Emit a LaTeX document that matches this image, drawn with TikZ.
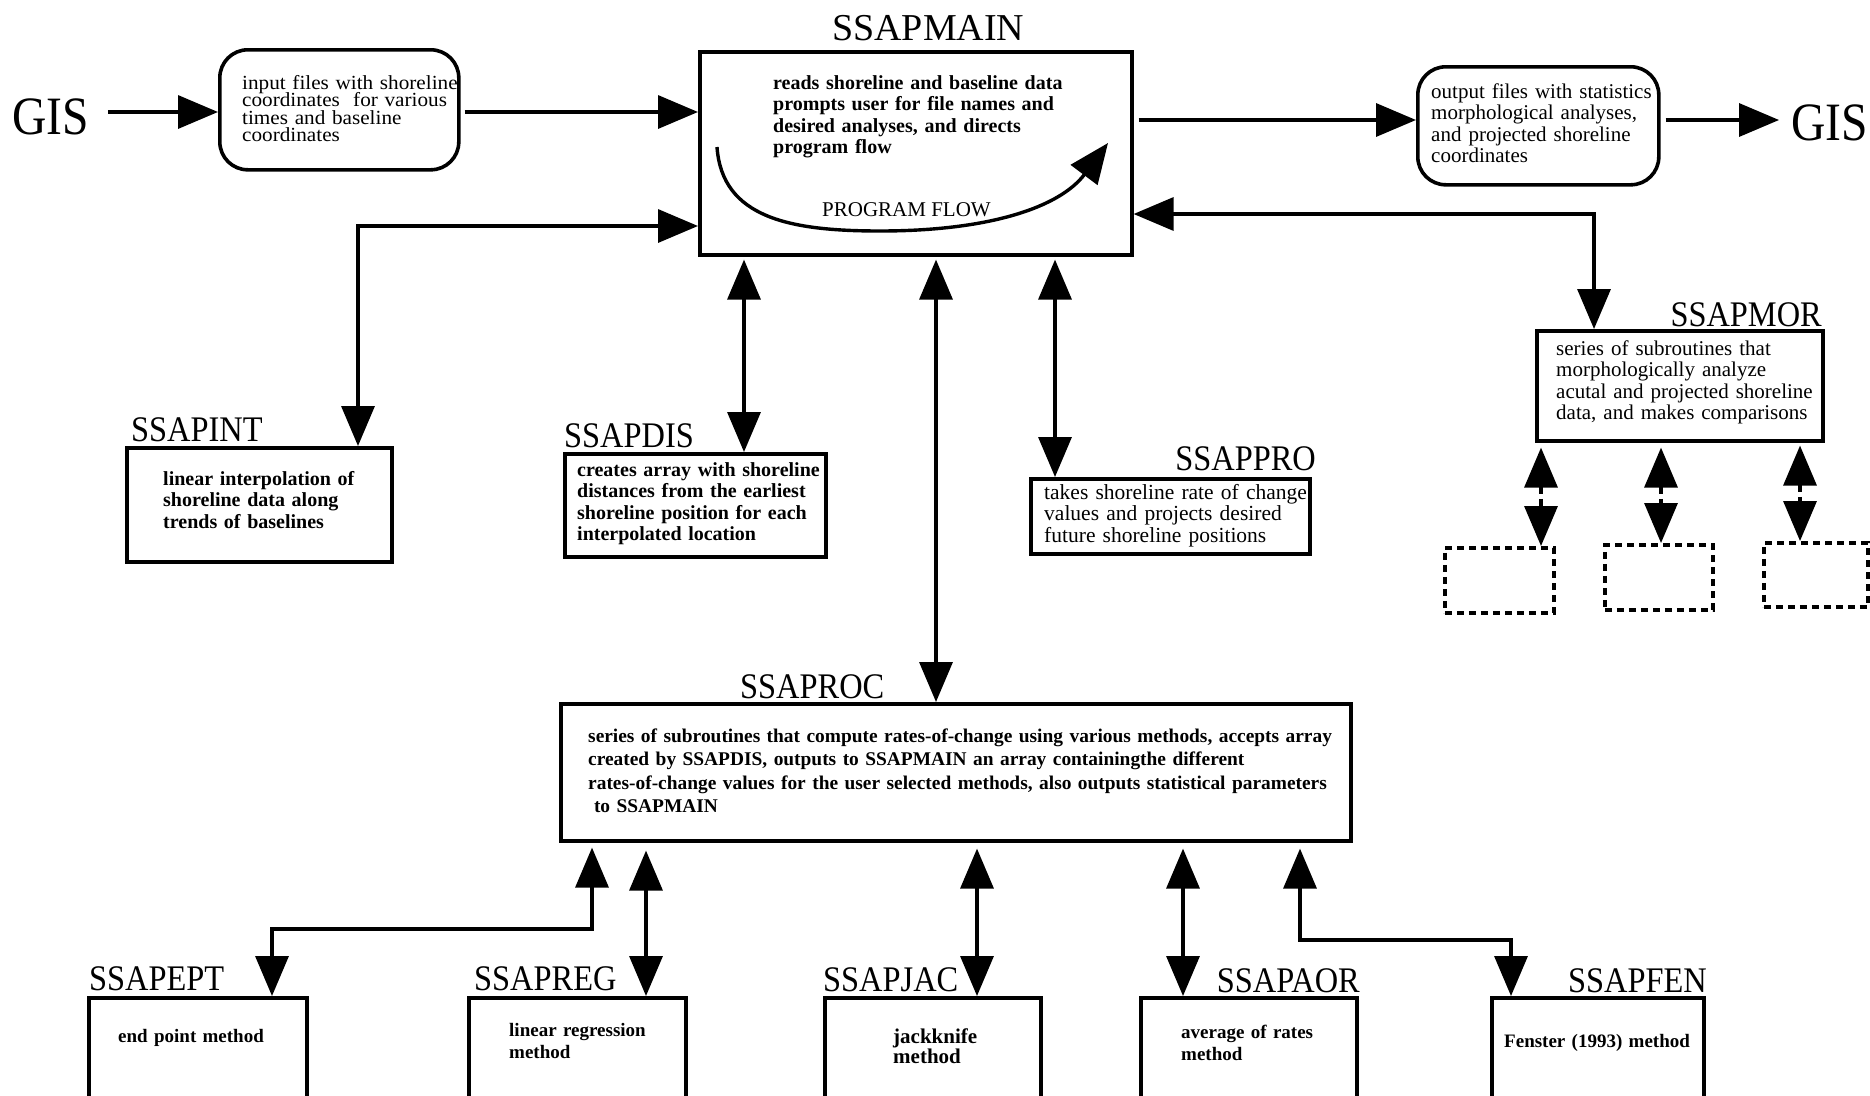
\documentclass[tikz,border=0pt]{standalone}
\usepackage{fontspec}
\setmainfont{Liberation Serif}
\newfontfamily\labelfont[FakeStretch=0.9]{Liberation Serif}
\newfontfamily\gisfont[FakeStretch=0.88]{Liberation Serif}
\newfontfamily\widefont[FakeStretch=1.06]{Liberation Serif}
\usetikzlibrary{arrows.meta}
% fixed line spacing even when lines come close
\newcommand\tightlead{\lineskiplimit-50pt\relax}

\begin{document}
\begin{tikzpicture}[x=1pt,y=-1pt,
  box/.style={draw, line width=3.6pt, inner sep=0pt, anchor=north west},
  roundbox/.style={box, rounded corners=28pt},
  dashbox/.style={box, dash pattern=on 7pt off 5pt},
  wire/.style={line width=3.4pt},
  onetip/.style={wire, -{Triangle[length=40pt,width=33pt]}},
  twotip/.style={wire, {Triangle[length=40pt,width=33pt]}-{Triangle[length=40pt,width=33pt]}},
  dashtwotip/.style={twotip, dash pattern=on 7pt off 5pt},
  gis/.style={inner sep=0pt, font=\gisfont\fontsize{54}{54}\selectfont},
  title/.style={inner sep=0pt, font=\labelfont\fontsize{36}{36}\selectfont},
  bodyB/.style={inner sep=0pt, anchor=base west, align=left, text width=#1,
    font=\fontsize{20}{21.6}\selectfont\bfseries},
  bodyR/.style={inner sep=0pt, anchor=base west, align=left, text width=#1,
    font=\fontsize{21}{21.5}\selectfont},
]
\useasboundingbox (0,0) rectangle (1870,1095);
\fill[white] (0,0) rectangle (1870,1095);
\clip (0,0) rectangle (1870,1095);

% ---------- top row ----------
\node[gis, anchor=base west] (gisL) at (12,134) {GIS};
\node[gis, anchor=base east] (gisR) at (1868,140) {GIS};

\node[roundbox, minimum width=239pt, minimum height=120pt] (in) at (218,48) {};
\node[inner sep=0pt, anchor=base west, align=left, text width=235pt,
  font=\widefont\fontsize{20}{17.5}\selectfont\tightlead] (inT) at (242,89)
  {input files with shoreline\\coordinates\ \ for various\\times and baseline\\coordinates};

\node[box, minimum width=432pt, minimum height=203pt] (main) at (698,50) {};
\node[inner sep=0pt, anchor=base west, font=\fontsize{38}{38}\selectfont] (mainL) at (832,40) {SSAPMAIN};
\node[bodyB=340pt] (mainT) at (773,89)
  {reads shoreline and baseline data\\prompts user for file names and\\desired analyses, and directs\\program flow};
\node[inner sep=0pt, anchor=base west, font=\fontsize{21}{21}\selectfont] (flowL) at (822,216) {PROGRAM FLOW};
\draw[onetip] (717,147) .. controls (722,218) and (790,231) .. (880,231)
  .. controls (990,231) and (1060,207) .. (1108,143);

\node[roundbox, minimum width=241pt, minimum height=118pt] (out) at (1416,65) {};
\node[bodyR=240pt] (outT) at (1431,98)
  {output files with statistics\\morphological analyses,\\and projected shoreline\\coordinates};

% ---------- second row ----------
\node[box, minimum width=265pt, minimum height=114pt] (int) at (125,446) {};
\node[title, anchor=base west] (intL) at (131,441) {SSAPINT};
\node[bodyB=225pt] (intT) at (163,485)
  {linear interpolation of\\shoreline data along\\trends of baselines};

\node[box, minimum width=261pt, minimum height=103pt] (dis) at (563,452) {};
\node[title, anchor=base west] (disL) at (564,447) {SSAPDIS};
\node[bodyB=250pt] (disT) at (577,476)
  {creates array with shoreline\\distances from the earliest\\shoreline position for each\\interpolated location};

\node[box, minimum width=279pt, minimum height=75pt] (pro) at (1029,477) {};
\node[title, anchor=base east] (proL) at (1316,470) {SSAPPRO};
\node[bodyR=300pt, font=\fontsize{21.5}{21.5}\selectfont] (proT) at (1044,499)
  {takes shoreline rate of change\\values and projects desired\\future shoreline positions};

\node[box, minimum width=286pt, minimum height=110pt] (mor) at (1535,329) {};
\node[title, anchor=base east] (morL) at (1822,326) {SSAPMOR};
\node[bodyR=300pt] (morT) at (1556,355)
  {series of subroutines that\\morphologically analyze\\acutal and projected shoreline\\data, and makes comparisons};

\node[dashbox, minimum width=109pt, minimum height=65pt] (d1) at (1443,546) {};
\node[dashbox, minimum width=108pt, minimum height=65pt] (d2) at (1603,543) {};
\node[dashbox, minimum width=104pt, minimum height=64pt] (d3) at (1762,541) {};

% ---------- SSAPROC ----------
\node[box, minimum width=790pt, minimum height=137pt] (roc) at (559,702) {};
\node[title, anchor=base west] (rocL) at (740,698) {SSAPROC};
\node[bodyB=830pt, font=\fontsize{19.4}{23.5}\selectfont\bfseries] (rocT) at (588,742)
  {series of subroutines that compute rates-of-change using various methods, accepts array\\
   created by SSAPDIS, outputs to SSAPMAIN an array containingthe different\\
   rates-of-change values for the user selected methods, also outputs statistical parameters\\
   \hspace*{0.3em}to SSAPMAIN};

% ---------- method boxes ----------
\node[box, minimum width=218pt, minimum height=130pt] (ept) at (87,996) {};
\node[title, anchor=base west] (eptL) at (89,990) {SSAPEPT};
\node[bodyB=200pt, font=\fontsize{19}{22}\selectfont\bfseries] (eptT) at (118,1042) {end point method};

\node[box, minimum width=217pt, minimum height=130pt] (reg) at (467,996) {};
\node[title, anchor=base west] (regL) at (474,990) {SSAPREG};
\node[bodyB=200pt, font=\fontsize{19}{22}\selectfont\bfseries] (regT) at (509,1036) {linear regression\\method};

\node[box, minimum width=216pt, minimum height=130pt] (jac) at (823,996) {};
\node[title, anchor=base west] (jacL) at (823,991) {SSAPJAC};
\node[bodyB=200pt, font=\fontsize{21}{20}\selectfont\bfseries] (jacT) at (893,1043) {jackknife\\method};

\node[box, minimum width=216pt, minimum height=130pt] (aor) at (1139,996) {};
\node[title, anchor=base east] (aorL) at (1360,992) {SSAPAOR};
\node[bodyB=200pt, font=\fontsize{19}{22}\selectfont\bfseries] (aorT) at (1181,1038) {average of rates\\method};

\node[box, minimum width=212pt, minimum height=130pt] (fen) at (1490,996) {};
\node[title, anchor=base east] (fenL) at (1707,992) {SSAPFEN};
\node[bodyB=205pt, font=\fontsize{19}{22}\selectfont\bfseries] (fenT) at (1504,1047) {Fenster (1993) method};

% ---------- connectors ----------
\draw[onetip, shorten <=19pt] (gisL.east |- 0,112) -- (in.west |- 0,112);
\draw[onetip, shorten <=4pt] (in.east |- 0,112) -- (main.west |- 0,112);
\draw[onetip, shorten <=5pt] (main.east |- 0,120) -- (out.west |- 0,120);
\draw[onetip, shorten <=5pt, shorten >=12pt] (out.east |- 0,120) -- (gisR.west |- 0,120);

\draw[twotip] (int.north -| 358,0) |- (main.west |- 0,226);
\draw[twotip] (main.east |- 0,214) -| (mor.north -| 1594,0);

\draw[twotip, shorten <=3pt] (main.south -| 744,0) -- (dis.north -| 744,0);
\draw[twotip, shorten <=3pt] (main.south -| 936,0) -- (roc.north -| 936,0);
\draw[twotip, shorten <=3pt] (main.south -| 1055,0) -- (pro.north -| 1055,0);

\draw[dashtwotip, shorten <=5pt] (mor.south -| 1541,0) -- (d1.north -| 1541,0);
\draw[dashtwotip, shorten <=5pt] (mor.south -| 1661,0) -- (d2.north -| 1661,0);
\draw[dashtwotip, shorten <=3pt] (mor.south -| 1800,0) -- (d3.north -| 1800,0);

\draw[twotip, shorten <=5pt] (roc.south -| 592,0) |- (272,929) -- (ept.north -| 272,0);
\draw[twotip, shorten <=8pt] (roc.south -| 646,0) -- (reg.north -| 646,0);
\draw[twotip, shorten <=6pt] (roc.south -| 977,0) -- (jac.north -| 977,0);
\draw[twotip, shorten <=6pt] (roc.south -| 1183,0) -- (aor.north -| 1183,0);
\draw[twotip, shorten <=6pt] (roc.south -| 1300,0) |- (1511,940) -- (fen.north -| 1511,0);
\end{tikzpicture}
\end{document}
